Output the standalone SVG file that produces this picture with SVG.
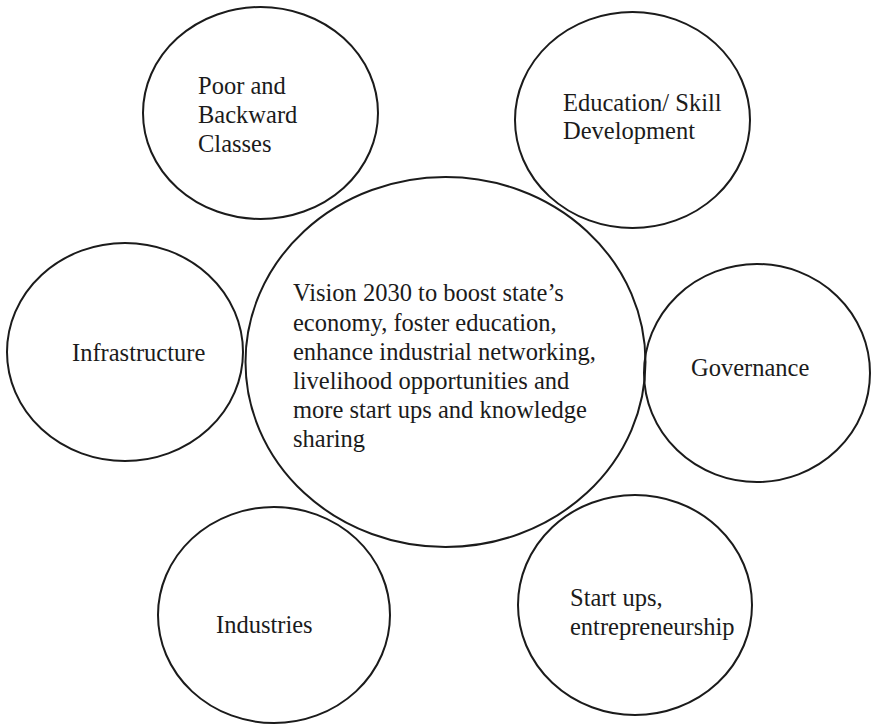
<svg xmlns="http://www.w3.org/2000/svg" width="874" height="726" viewBox="0 0 874 726">
  <style>
    .ring { fill: none; stroke: #1b1b1b; stroke-width: 2; }
    .label { font-family: "Liberation Serif", "Times New Roman", serif; font-size: 24.5px; fill: #1b1b1b; }
  </style>
  <rect width="874" height="726" fill="#ffffff"/>
  <g id="connectors"></g>
  <g id="node-poor">
    <ellipse class="ring" cx="260.5" cy="113" rx="117.5" ry="106"/>
    <text class="label" x="198">
      <tspan x="198" y="94">Poor and</tspan>
      <tspan x="198" y="123">Backward</tspan>
      <tspan x="198" y="152">Classes</tspan>
    </text>
  </g>
  <g id="node-education">
    <ellipse class="ring" cx="632.5" cy="120" rx="117.5" ry="108"/>
    <text class="label">
      <tspan x="563" y="111">Education/ Skill</tspan>
      <tspan x="563" y="139">Development</tspan>
    </text>
  </g>
  <g id="node-infrastructure">
    <ellipse class="ring" cx="125" cy="352" rx="118" ry="109"/>
    <text class="label" x="72" y="361">Infrastructure</text>
  </g>
  <g id="node-governance">
    <ellipse class="ring" cx="757" cy="373" rx="113" ry="109"/>
    <text class="label" x="691" y="376">Governance</text>
  </g>
  <g id="node-industries">
    <ellipse class="ring" cx="274" cy="615" rx="116" ry="108"/>
    <text class="label" x="216" y="633">Industries</text>
  </g>
  <g id="node-startups">
    <ellipse class="ring" cx="635" cy="605" rx="117" ry="110"/>
    <text class="label">
      <tspan x="570" y="606">Start ups,</tspan>
      <tspan x="570" y="635">entrepreneurship</tspan>
    </text>
  </g>
  <g id="node-vision">
    <ellipse class="ring" cx="445.5" cy="362" rx="200" ry="185"/>
    <text class="label">
      <tspan x="293" y="301">Vision 2030 to boost state’s</tspan>
      <tspan x="293" y="330.5">economy, foster education,</tspan>
      <tspan x="293" y="360">enhance industrial networking,</tspan>
      <tspan x="293" y="389">livelihood opportunities and</tspan>
      <tspan x="293" y="418">more start ups and knowledge</tspan>
      <tspan x="293" y="447">sharing</tspan>
    </text>
  </g>
</svg>
